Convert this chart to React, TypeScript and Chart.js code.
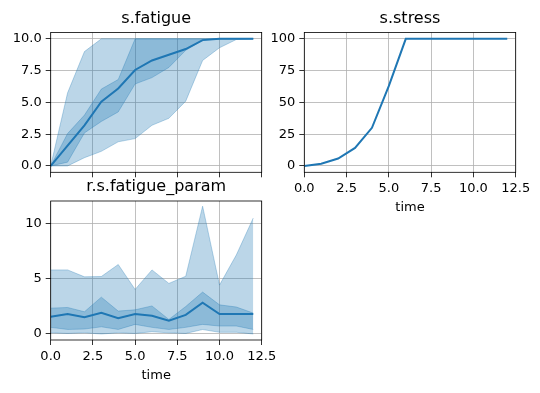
import React, { useEffect, useRef } from "react";
import { Chart, registerables } from "chart.js";

Chart.register(...registerables);

// ---- data ----
const time = [0, 1, 2, 3, 4, 5, 6, 7, 8, 9, 10, 11, 12];
const xTicks = [0, 2.5, 5, 7.5, 10, 12.5];

const fatigueMean = [0, 1.6, 3.2, 5.05, 6.1, 7.55, 8.3, 8.75, 9.2, 9.9, 10, 10, 10];
const fatigueInnerUpper = [0, 2.55, 4.0, 6.05, 6.8, 10, 10, 10, 10, 10, 10, 10, 10];
const fatigueInnerLower = [0, 0.3, 2.6, 3.5, 4.25, 6.45, 6.95, 7.75, 9.1, 9.9, 10, 10, 10];
const fatigueOuterUpper = [0, 5.75, 9.0, 10, 10, 10, 10, 10, 10, 10, 10, 10, 10];
const fatigueOuterLower = [0, 0, 0.65, 1.15, 1.9, 2.15, 3.2, 3.75, 5.1, 8.3, 9.3, 9.95, 10];
const fatigueTicks = [0, 2.5, 5, 7.5, 10];

const stressMean = [0, 1.8, 5.8, 14.2, 30, 63, 100, 100, 100, 100, 100, 100, 100];
const stressTicks = [0, 25, 50, 75, 100];

const paramMean = [1.52, 1.76, 1.47, 1.88, 1.39, 1.77, 1.6, 1.15, 1.69, 2.79, 1.77, 1.76, 1.77];
const paramInnerUpper = [2.3, 2.36, 1.97, 3.3, 2.03, 2.15, 2.5, 1.27, 2.45, 3.76, 2.6, 2.4, 1.85];
const paramInnerLower = [0.55, 0.36, 0.4, 0.6, 0.36, 0.82, 0.55, 0.36, 0.55, 0.82, 0.67, 0.67, 0.36];
const paramOuterUpper = [5.78, 5.78, 5.15, 5.18, 6.27, 4.0, 5.78, 4.55, 5.2, 11.58, 4.4, 7.15, 10.5];
const paramOuterLower = [0.05, 0, 0.05, -0.05, 0.05, 0, 0.15, 0.05, 0, 0.35, 0.1, 0.1, -0.05];
const paramTicks = [0, 5, 10];

// ---- styling ----
const BLUE = "#1f77b4";
const BAND = "rgba(31,119,180,0.3)";
const FONT = "DejaVu Sans";
const W = 540;
const H = 393;

const pts = (ys: number[]) => time.map((x, i) => ({ x, y: ys[i] }));

function bandSets(mean: number[], iu: number[], il: number[], ou: number[], ol: number[]) {
  const band = { borderColor: BAND, borderWidth: 1, backgroundColor: BAND, pointRadius: 0, tension: 0 };
  return [
    { data: pts(mean), borderColor: BLUE, borderWidth: 2, pointRadius: 0, fill: false, tension: 0 },
    { ...band, data: pts(iu), fill: false },
    { ...band, data: pts(il), fill: "-1" },
    { ...band, data: pts(ou), fill: false },
    { ...band, data: pts(ol), fill: "-1" },
  ];
}

const framePlugin = {
  id: "frame",
  afterDraw(chart: any) {
    const { ctx, chartArea } = chart;
    const { left, top, right, bottom } = chartArea;
    ctx.save();
    ctx.strokeStyle = "#000";
    ctx.lineWidth = 0.8;
    ctx.strokeRect(left, top, right - left, bottom - top);
    ctx.restore();
  },
};

type Panel = {
  title: string;
  box: [number, number, number, number];
  yMin: number;
  yMax: number;
  yTicks: number[];
  yFmt: (v: number) => string;
  xLabels: boolean;
  datasets: any[];
};

function makeChart(canvas: HTMLCanvasElement, p: Panel) {
  const [L, T, R, B] = p.box;
  const yW = 45;
  const xH = p.xLabels ? 45 : 6;
  const titleH = 16 + 6;
  const tickFont = { family: FONT, size: 13, lineHeight: 1.2 };
  return new Chart(canvas, {
    type: "line",
    data: { datasets: p.datasets },
    plugins: [framePlugin],
    options: {
      animation: false,
      responsive: false,
      events: [],
      layout: {
        autoPadding: false,
        padding: { left: L - yW, top: T - titleH, right: W - R, bottom: H - B - xH },
      },
      plugins: {
        legend: { display: false },
        tooltip: { enabled: false },
        title: {
          display: true,
          text: p.title,
          fullSize: false,
          color: "#000",
          font: { family: FONT, size: 16, weight: "normal", lineHeight: 1 },
          padding: { top: 0, bottom: 6 },
        },
      },
      scales: {
        x: {
          type: "linear",
          min: 0,
          max: 12.5,
          afterBuildTicks: (s: any) => {
            s.ticks = xTicks.map((v) => ({ value: v }));
          },
          afterFit: (s: any) => {
            s.height = xH;
          },
          border: { display: false },
          grid: { color: "#b0b0b0", lineWidth: 0.8, tickLength: 5, tickColor: "#000", tickWidth: 0.8 },
          ticks: {
            display: p.xLabels,
            color: "#000",
            font: tickFont,
            padding: 3.5,
            maxRotation: 0,
            autoSkip: false,
            callback: (v: any) => Number(v).toFixed(1),
          },
          title: {
            display: p.xLabels,
            text: "time",
            color: "#000",
            font: { family: FONT, size: 13, lineHeight: 1 },
            padding: { top: 0, bottom: 3 },
          },
        },
        y: {
          type: "linear",
          min: p.yMin,
          max: p.yMax,
          afterBuildTicks: (s: any) => {
            s.ticks = p.yTicks.map((v) => ({ value: v }));
          },
          afterFit: (s: any) => {
            s.width = yW;
          },
          border: { display: false },
          grid: { color: "#b0b0b0", lineWidth: 0.8, tickLength: 5, tickColor: "#000", tickWidth: 0.8 },
          ticks: {
            color: "#000",
            font: tickFont,
            padding: 4,
            autoSkip: false,
            callback: (v: any) => p.yFmt(Number(v)),
          },
        },
      },
    },
  } as any);
}

const panels: Panel[] = [
  {
    title: "s.fatigue",
    box: [50.7, 32.5, 261.7, 172.3],
    yMin: -0.5,
    yMax: 10.5,
    yTicks: fatigueTicks,
    yFmt: (v) => v.toFixed(1),
    xLabels: false,
    datasets: bandSets(fatigueMean, fatigueInnerUpper, fatigueInnerLower, fatigueOuterUpper, fatigueOuterLower),
  },
  {
    title: "s.stress",
    box: [304.3, 32.5, 515.7, 172.3],
    yMin: -5,
    yMax: 105,
    yTicks: stressTicks,
    yFmt: (v) => String(Math.round(v)),
    xLabels: true,
    datasets: [
      { data: pts(stressMean), borderColor: BLUE, borderWidth: 2, pointRadius: 0, fill: false, tension: 0 },
    ],
  },
  {
    title: "r.s.fatigue_param",
    box: [50.7, 201, 261.7, 340],
    yMin: -0.6,
    yMax: 12.05,
    yTicks: paramTicks,
    yFmt: (v) => String(Math.round(v)),
    xLabels: true,
    datasets: bandSets(paramMean, paramInnerUpper, paramInnerLower, paramOuterUpper, paramOuterLower),
  },
];

export default function App() {
  const r0 = useRef<HTMLCanvasElement>(null);
  const r1 = useRef<HTMLCanvasElement>(null);
  const r2 = useRef<HTMLCanvasElement>(null);
  useEffect(() => {
    const refs = [r0, r1, r2];
    const charts = panels.map((p, i) => makeChart(refs[i].current as HTMLCanvasElement, p));
    return () => charts.forEach((c) => c.destroy());
  }, []);
  const cs: React.CSSProperties = { position: "absolute", left: 0, top: 0, width: W, height: H };
  return (
    <div style={{ position: "fixed", left: 0, top: 0, width: W, height: H, background: "#fff" }}>
      <canvas ref={r0} width={W} height={H} style={cs} />
      <canvas ref={r1} width={W} height={H} style={cs} />
      <canvas ref={r2} width={W} height={H} style={cs} />
    </div>
  );
}
